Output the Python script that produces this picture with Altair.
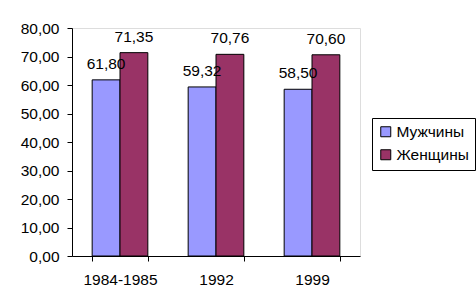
import altair as alt
import pandas as pd

categories = ["1984-1985", "1992", "1999"]
men = [61.80, 59.32, 58.50]
women = [71.35, 70.76, 70.60]
series = ["Мужчины", "Женщины"]
colors = ["#9999FF", "#993366"]

rows = []
for c, m, w in zip(categories, men, women):
    rows.append({"cat": c, "series": series[0], "value": m})
    rows.append({"cat": c, "series": series[1], "value": w})
df = pd.DataFrame(rows)
df["label"] = df["value"].map(lambda v: f"{v:.2f}".replace(".", ","))

FONT = "Liberation Sans"
FS = 15.5

x = alt.X("cat:N", sort=categories, title=None,
          scale=alt.Scale(paddingInner=0.42, paddingOuter=0.21),
          axis=alt.Axis(labelAngle=0, tickBand="extent", domainColor="black",
                        tickColor="black", tickSize=5, labelFontSize=FS,
                        labelFont=FONT, labelColor="black", labelPadding=11))
xo = alt.XOffset("series:N", sort=series)
y = alt.Y("value:Q", title=None,
          scale=alt.Scale(domain=[0, 80]),
          axis=alt.Axis(values=list(range(0, 81, 10)), grid=False,
                        labelExpr="replace(format(datum.value, '.2f'), '.', ',')",
                        domainColor="black", tickColor="black", tickSize=5,
                        labelFontSize=FS, labelFont=FONT, labelColor="black",
                        labelPadding=8))

base = alt.Chart(df)
bars = base.mark_bar(stroke="black", strokeWidth=1).encode(
    x=x, xOffset=xo, y=y,
    color=alt.Color("series:N", sort=series,
                    scale=alt.Scale(domain=series, range=colors),
                    legend=alt.Legend(title=None, orient="none", legendX=300, legendY=90,
                                      symbolType="square", symbolSize=100,
                                      symbolStrokeColor="black", symbolStrokeWidth=1,
                                      labelFontSize=FS, labelFont=FONT, labelColor="black",
                                      strokeColor="black", padding=6, rowPadding=6,
                                      labelOffset=3, fillColor="white")),
)
texts = base.mark_text(dy=-16, fontSize=FS, font=FONT, color="black").encode(
    x=x, xOffset=xo, y=y, text="label:N")

chart = (bars + texts).properties(
    width=288, height=228,
    padding={"left": 72, "top": 28, "right": 116, "bottom": 50},
    autosize=alt.AutoSizeParams(type="none"),
).configure_view(stroke="#808080", strokeWidth=1).configure(background="white")

chart.save("out.html", embed_options={"renderer": "svg", "actions": False})
